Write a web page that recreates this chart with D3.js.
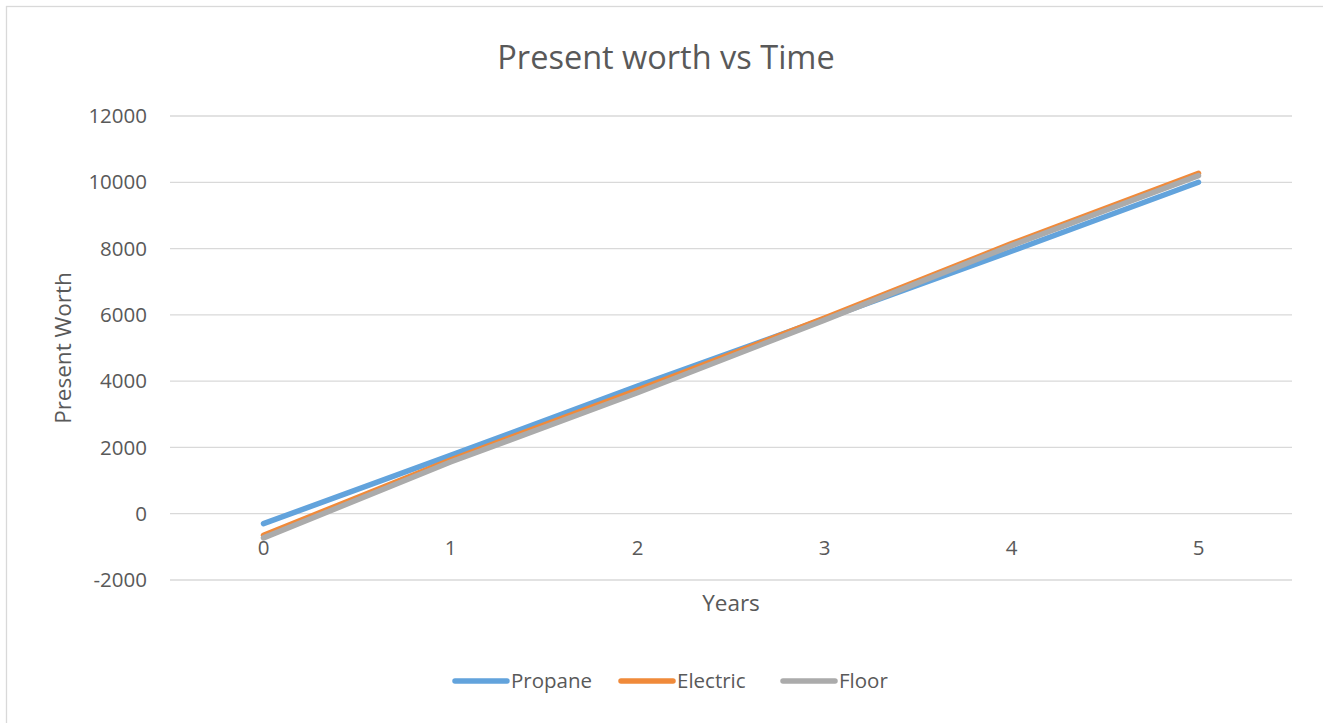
<!DOCTYPE html>
<html lang="en">
<head>
<meta charset="UTF-8">
<title>Present worth vs Time</title>
<style>
    body { margin: 0; background: #fff; }
    svg text { font-family: "Open Sans", "Liberation Sans", sans-serif; fill: #595959; }
    .grid line { stroke: #d9d9d9; stroke-width: 1.3; }
</style>
</head>
<body>
<svg width="1323" height="723"></svg>
<script src="https://d3js.org/d3.v7.min.js"></script>
<script>
var years = [0, 1, 2, 3, 4, 5];
var propane = [-300, 1760, 3850, 5880, 7920, 10000];
var electric = [-650, 1620, 3730, 5900, 8150, 10270];
var floor = [-730, 1560, 3650, 5840, 8090, 10200];
var seriesNames = ["Propane", "Electric", "Floor"];
var seriesColors = ["#62a3dc", "#f08a3a", "#ababab"];
var yTicks = [-2000, 0, 2000, 4000, 6000, 8000, 10000, 12000];

var svg = d3.select("svg");
var series = [propane, electric, floor];

// chart frame
svg.append("rect")
    .attr("x", 6.5).attr("y", 6.5)
    .attr("width", 1330).attr("height", 730)
    .attr("fill", "none").attr("stroke", "#d9d9d9").attr("stroke-width", 1.3);

var plotLeft = 170, plotRight = 1292, plotTop = 116, plotBottom = 580;

var x = d3.scaleBand().domain(years).range([plotLeft, plotRight]);
var y = d3.scaleLinear().domain([-2000, 12000]).range([plotBottom, plotTop]);

// gridlines
svg.append("g").attr("class", "grid")
    .selectAll("line").data(yTicks).enter().append("line")
    .attr("x1", plotLeft).attr("x2", plotRight)
    .attr("y1", function(d){ return y(d); })
    .attr("y2", function(d){ return y(d); });

// y tick labels
svg.append("g").selectAll("text").data(yTicks).enter().append("text")
    .attr("x", 147).attr("y", function(d){ return y(d); })
    .attr("dy", "0.35em")
    .attr("text-anchor", "end")
    .style("font-size", "20.5px")
    .text(function(d){ return d; });

// x tick labels (sit just below zero line)
svg.append("g").selectAll("text").data(years).enter().append("text")
    .attr("x", function(d){ return x(d) + x.bandwidth() / 2; })
    .attr("y", y(0) + 41)
    .attr("text-anchor", "middle")
    .style("font-size", "20.5px")
    .text(function(d){ return d; });

// lines, drawn in series order (Floor ends on top)
var line = d3.line()
    .x(function(d, i){ return x(years[i]) + x.bandwidth() / 2; })
    .y(function(d){ return y(d); });

series.forEach(function(s, i){
    svg.append("path")
        .datum(s)
        .attr("d", line)
        .attr("fill", "none")
        .attr("stroke", seriesColors[i])
        .attr("stroke-width", 5.5)
        .attr("stroke-linecap", "round");
});

// title
svg.append("text")
    .attr("x", 666).attr("y", 69)
    .attr("text-anchor", "middle")
    .style("font-size", "32.5px")
    .text("Present worth vs Time");

// axis titles
svg.append("text")
    .attr("x", 731).attr("y", 611)
    .attr("text-anchor", "middle")
    .style("font-size", "22.5px")
    .text("Years");

svg.append("text")
    .attr("transform", "translate(71," + ((plotTop + plotBottom) / 2) + ") rotate(-90)")
    .attr("text-anchor", "middle")
    .style("font-size", "22.5px")
    .text("Present Worth");

// legend
var legendX = [452, 618, 780];
var legend = svg.selectAll(".legend").data(seriesNames).enter().append("g")
    .attr("class", "legend")
    .attr("transform", function(d, i){ return "translate(" + legendX[i] + ",681)"; });

legend.append("line")
    .attr("x1", 3).attr("x2", 55)
    .attr("stroke", function(d, i){ return seriesColors[i]; })
    .attr("stroke-width", 5.5)
    .attr("stroke-linecap", "round");

legend.append("text")
    .attr("x", 59).attr("dy", "0.35em")
    .style("font-size", "20.5px")
    .text(function(d){ return d; });
</script>
</body>
</html>
